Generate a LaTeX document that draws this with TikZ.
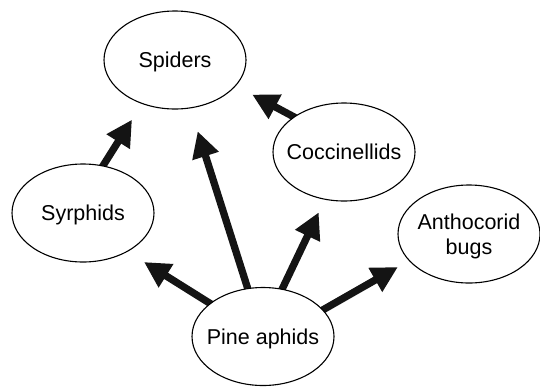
\documentclass[tikz,border=0pt]{standalone}
\usepackage{fontspec}
\setmainfont{Liberation Sans}
\usetikzlibrary{shapes.geometric,arrows.meta}
\pgfdeclarelayer{bg}
\pgfsetlayers{bg,main}
\begin{document}
\begin{tikzpicture}[x=1pt,y=-1pt,
  blob/.style={ellipse,draw,line width=1.1pt,fill=white,minimum width=142pt,minimum height=98pt,
    inner xsep=-30pt,inner ysep=0pt,font=\fontsize{21.5}{25}\selectfont,text depth=0pt,align=center},
  arr/.style={line width=7.3pt,draw=black!92,-{Triangle[length=26pt,width=26pt]},shorten <=-4pt}]
\useasboundingbox (0,0) rectangle (540,386);
\node[blob] (spi) at (175,60) {Spiders};
\node[blob] (syr) at (83,213) {Syrphids};
\node[blob] (coc) at (344,152) {Coccinellids};
\node[blob] (ant) at (469,234) {Anthocorid\\bugs};
\node[blob] (pin) at (263,336.5) {Pine aphids};
\begin{pgfonlayer}{bg}
\draw[arr,shorten >=18.6pt] (syr.67) -- (spi.233);
\draw[arr,shorten >=24pt] (pin) -- (spi);
\draw[arr,shorten >=19.4pt] (pin.148) -- (syr.319);
\draw[arr,shorten >=14pt] (pin.68) -- (coc.248);
\draw[arr,shorten >=12.6pt] (pin.24) -- (ant.204);
\draw[arr,shorten >=18.4pt] (coc.145) -- (spi.337);
\end{pgfonlayer}
\end{tikzpicture}
\end{document}
